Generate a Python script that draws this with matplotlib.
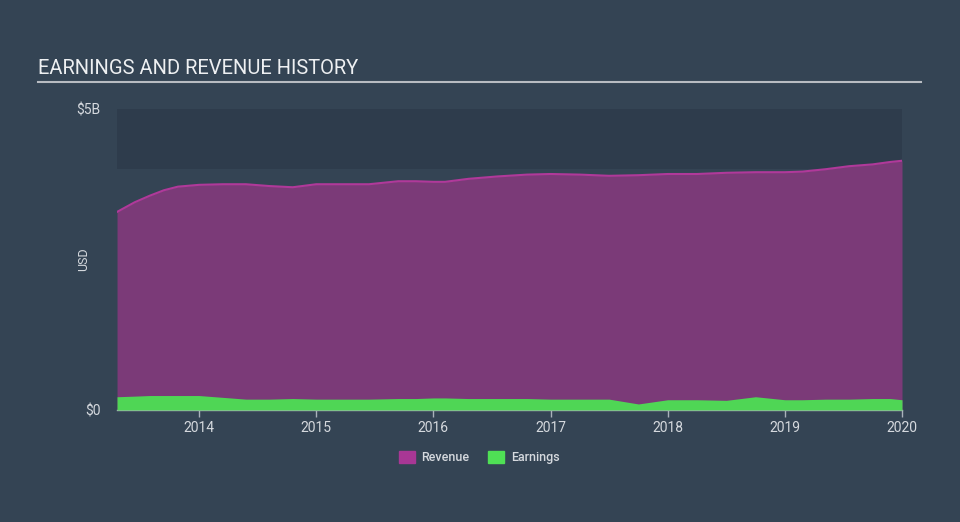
import numpy as np
import matplotlib.pyplot as plt
from matplotlib.patches import Patch

plt.rcParams['font.family'] = ['Roboto', 'DejaVu Sans']

# quarterly-ish dates (decimal years) and values in $B
dates = [2013.30, 2013.45, 2013.58, 2013.70, 2013.82, 2014.0, 2014.2, 2014.4,
         2014.6, 2014.8, 2015.0, 2015.2, 2015.45, 2015.7, 2015.85, 2016.0,
         2016.1, 2016.3, 2016.55, 2016.8, 2017.0, 2017.25, 2017.5, 2017.75,
         2018.0, 2018.25, 2018.5, 2018.75, 2019.0, 2019.15, 2019.35, 2019.55,
         2019.75, 2019.9, 2020.0]
revenue = [3.29, 3.45, 3.56, 3.65, 3.71, 3.74, 3.75, 3.75, 3.72, 3.70,
           3.75, 3.75, 3.75, 3.80, 3.80, 3.79, 3.79, 3.84, 3.88, 3.91,
           3.92, 3.91, 3.89, 3.90, 3.92, 3.92, 3.94, 3.95, 3.95, 3.96,
           4.00, 4.05, 4.08, 4.12, 4.14]
earnings = [0.22, 0.23, 0.24, 0.24, 0.24, 0.24, 0.21, 0.18, 0.18, 0.19,
            0.18, 0.18, 0.18, 0.19, 0.19, 0.20, 0.20, 0.19, 0.19, 0.19,
            0.18, 0.18, 0.18, 0.10, 0.17, 0.17, 0.16, 0.22, 0.17, 0.17,
            0.18, 0.18, 0.19, 0.19, 0.17]
years = [2014, 2015, 2016, 2017, 2018, 2019, 2020]

bg = '#344454'
txt = '#d5d9de'

fig = plt.figure(figsize=(9.6, 5.22), dpi=100, facecolor=bg)
ax = fig.add_axes([0.1219, 0.2146, 0.8177, 0.5766])
ax.set_facecolor(bg)

d = np.array(dates)
r = np.array(revenue) * 1e9
e = np.array(earnings) * 1e9

ax.axhspan(4e9, 5e9, color='#2e3c4c', zorder=0, lw=0)
ax.fill_between(d, 0, r, color='#7b3a78', lw=0, zorder=1)
ax.plot(d, r, color='#b0399a', lw=1.5, zorder=2)
ax.fill_between(d, 0, e, color='#4fd655', lw=0, zorder=3)

ax.set_xlim(2013.30, 2020.0)
ax.set_ylim(0, 5e9)
ax.set_xticks(years)
ax.set_xticklabels([str(y) for y in years])
ax.set_yticks([0, 5e9])
ax.set_yticklabels(['$0', '$5B'])
ax.tick_params(axis='x', colors='#aab2bb', labelcolor=txt, length=5, width=1,
               labelsize=10, pad=3)
ax.tick_params(axis='y', length=0, labelcolor=txt, labelsize=10, pad=12)
for s in ['top', 'right', 'left']:
    ax.spines[s].set_visible(False)
ax.spines['bottom'].set_color('#aab2bb')
ax.spines['bottom'].set_linewidth(1)
ax.set_ylabel('USD', color=txt, fontsize=9)
ax.yaxis.set_label_coords(-0.034, 0.5)

fig.text(0.040, 0.869, 'EARNINGS AND REVENUE HISTORY', color='#eef0f2',
         fontsize=14.5, ha='left', va='center')
fig.add_artist(plt.Line2D([0.040, 0.959], [0.843, 0.843], color='#b8bcc2', lw=1.5))

handles = [Patch(color='#a83795', label='Revenue'), Patch(color='#4fe055', label='Earnings')]
leg = fig.legend(handles=handles, loc='center', bbox_to_anchor=(0.499, 0.123), ncol=2,
                 frameon=False, prop={'size': 9, 'weight': 'medium'},
                 handlelength=1.3, handleheight=1.0,
                 columnspacing=1.5, handletextpad=0.5)
for t in leg.get_texts():
    t.set_color(txt)

fig.savefig('out.png', dpi=100, facecolor=bg)
